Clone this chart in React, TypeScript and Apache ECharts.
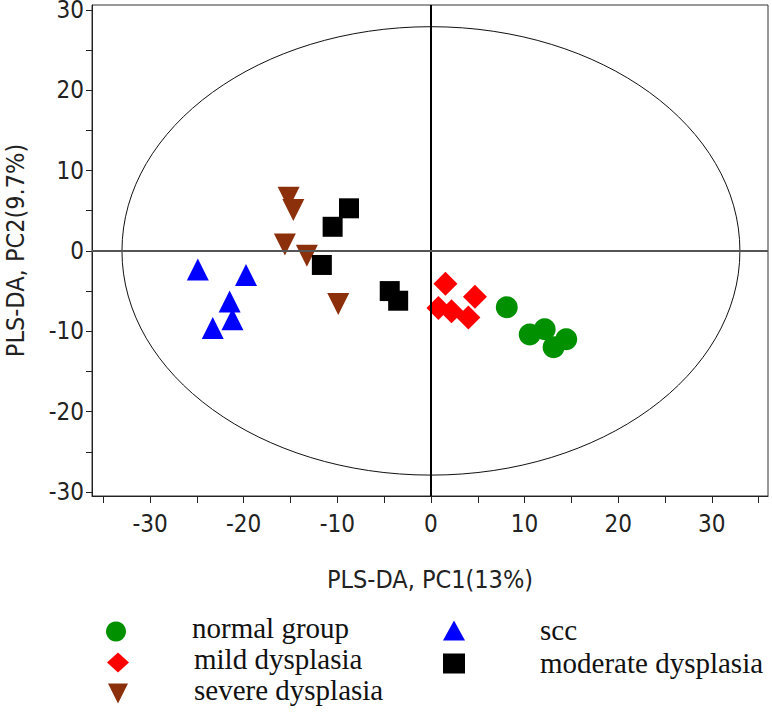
import React, { useEffect, useRef } from "react";
import * as echarts from "echarts";

const normalGroup: number[][] = [
  [8.1, -7.0], [10.55, -10.4], [12.15, -9.75], [13.1, -12.0], [14.45, -11.0],
];
const mildDysplasia: number[][] = [
  [1.55, -4.1], [0.8, -7.1], [2.2, -7.5], [4.7, -5.7], [4.0, -8.3],
];
const severeDysplasia: number[][] = [
  [-15.2, 6.6], [-14.7, 5.1], [-15.6, 0.8], [-13.25, -0.6], [-9.9, -6.6],
];
const sccGroup: number[][] = [
  [-24.9, -2.3], [-19.75, -3.0], [-21.5, -6.3], [-21.2, -8.5], [-23.3, -9.6],
];
const moderateDysplasia: number[][] = [
  [-8.75, 5.3], [-10.5, 3.0], [-11.65, -1.75], [-4.4, -5.0], [-3.5, -6.2],
];
// Hotelling ellipse: center x, center y, radius x, radius y
const ellipseData: number[][] = [[0, 0, 33.0, 27.9]];

const xTicks = [-35, -30, -25, -20, -15, -10, -5, 0, 5, 10, 15, 20, 25, 30, 35];
const xLabels = [-30, -20, -10, 0, 10, 20, 30];
const yTicks = [-30, -25, -20, -15, -10, -5, 0, 5, 10, 15, 20, 25, 30];
const yLabels = [-30, -20, -10, 0, 10, 20, 30];

const labelFont = "'DejaVu Sans Condensed', 'Liberation Sans Narrow', 'Liberation Sans', sans-serif";
const legendFont = "'Liberation Serif', 'DejaVu Serif', serif";

const downTriangle = "path://M0,0 L20,0 L10,20 Z";

// shift: negative moves text up relative to the icon, positive moves it down
function legendItem(name: string, left: number, top: number, padLeft: number, shift: number) {
  const lh = Math.abs(shift) * 2;
  return {
    orient: "vertical", left, top, padding: 0,
    itemWidth: 22, itemHeight: 20,
    data: [name],
    formatter: (n: string) => (shift < 0 ? n + "\n " : " \n" + n),
    textStyle: {
      fontFamily: legendFont, fontSize: 29, color: "#111",
      lineHeight: lh, padding: [0, 0, 0, padLeft],
    },
  };
}

export default function App() {
  const ref = useRef<HTMLDivElement>(null);
  useEffect(() => {
    if (!ref.current) return;
    const chart = echarts.init(ref.current, null, { renderer: "svg" });
    const axisLabelStyle = { fontFamily: labelFont, fontSize: 24, color: "#222" };
    chart.setOption({
      animation: false,
      backgroundColor: "#fff",
      grid: {
        left: 92, right: 4, top: 5, bottom: 223,
        outerBoundsMode: "none",
        containLabel: false,
        show: true, borderColor: "#333", borderWidth: 1, backgroundColor: "transparent",
      },
      xAxis: {
        type: "value", min: -36.2, max: 36,
        name: "PLS-DA, PC1(13%)", nameLocation: "middle", nameGap: 71,
        nameTextStyle: { fontFamily: labelFont, fontSize: 25, color: "#222" },
        axisLine: { onZero: false, lineStyle: { color: "#222", width: 1 } },
        axisTick: { show: true, customValues: xTicks, length: 7, lineStyle: { color: "#222" } },
        axisLabel: { customValues: xLabels, margin: 16, ...axisLabelStyle },
        splitLine: { show: false },
      },
      yAxis: {
        type: "value", min: -30.5, max: 30.6,
        name: "PLS-DA, PC2(9.7%)", nameLocation: "middle", nameGap: 64,
        nameTextStyle: { fontFamily: labelFont, fontSize: 25, color: "#222" },
        axisLine: { onZero: false, lineStyle: { color: "#222", width: 1 } },
        axisTick: { show: true, customValues: yTicks, length: 6, lineStyle: { color: "#222" } },
        axisLabel: { customValues: yLabels, margin: 8, ...axisLabelStyle },
        splitLine: { show: false },
      },
      legend: [
        legendItem("normal group", 106, 613, 60, -4),
        legendItem("mild dysplasia", 107, 644, 60, -4),
        legendItem("severe dysplasia", 108, 675, 60, -4),
        legendItem("scc", 443, 615, 70, -1),
        legendItem("moderate dysplasia", 443, 648, 70, -1),
      ],
      series: [
        {
          type: "custom",
          silent: true,
          data: ellipseData,
          renderItem: (params: any, api: any) => {
            const c = api.coord([api.value(0), api.value(1)]);
            const s = api.size([api.value(2), api.value(3)]);
            return {
              type: "ellipse",
              shape: { cx: c[0], cy: c[1], rx: s[0], ry: s[1] },
              style: { fill: "none", stroke: "#111", lineWidth: 1 },
            };
          },
          markLine: {
            silent: true,
            symbol: "none",
            label: { show: false },
            data: [
              { xAxis: 0, lineStyle: { color: "#000", width: 2, type: "solid" } },
              { yAxis: 0, lineStyle: { color: "#555", width: 2, type: "solid" } },
            ],
          },
        },
        {
          name: "normal group", type: "scatter", data: normalGroup,
          symbol: "circle", symbolSize: 22, itemStyle: { color: "#009000", opacity: 1 },
        },
        {
          name: "mild dysplasia", type: "scatter", data: mildDysplasia,
          symbol: "diamond", symbolSize: 24, itemStyle: { color: "#ff0000", opacity: 1 },
        },
        {
          name: "severe dysplasia", type: "scatter", data: severeDysplasia,
          symbol: downTriangle, symbolSize: 22, itemStyle: { color: "#8c300c", opacity: 1 },
        },
        {
          name: "scc", type: "scatter", data: sccGroup,
          symbol: "triangle", symbolSize: 22, itemStyle: { color: "#0000ff", opacity: 1 },
        },
        {
          name: "moderate dysplasia", type: "scatter", data: moderateDysplasia,
          symbol: "rect", symbolSize: 20, itemStyle: { color: "#000", opacity: 1 },
        },
      ],
    });
    return () => chart.dispose();
  }, []);
  return (
    <div
      ref={ref}
      style={{ position: "fixed", left: 0, top: 0, width: 772, height: 719, background: "#fff" }}
    />
  );
}
